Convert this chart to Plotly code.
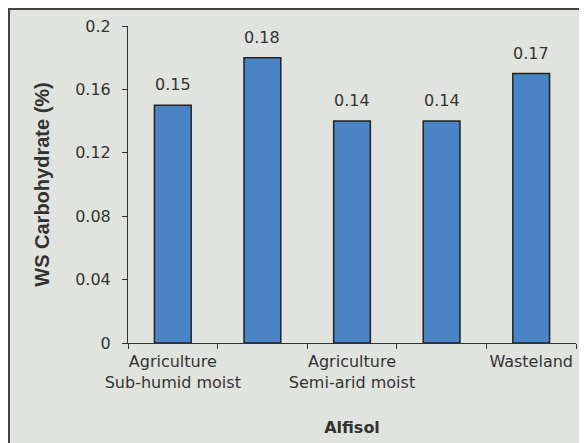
import plotly.graph_objects as go

# Data
categories = ["cat1", "cat2", "cat3", "cat4", "cat5"]
tick_labels = ["Agriculture<br>Sub-humid moist", "", "Agriculture<br>Semi-arid moist", "", "Wasteland"]
values = [0.15, 0.18, 0.14, 0.14, 0.17]
value_labels = ["0.15", "0.18", "0.14", "0.14", "0.17"]
y_ticks = [0, 0.04, 0.08, 0.12, 0.16, 0.2]
y_tick_labels = ["0", "0.04", "0.08", "0.12", "0.16", "0.2"]

TXT = "#333333"
FONT = "DejaVu Sans"
BG = "#e1e4de"

W, H = 579, 435          # page body has an 8px margin
L, R, T, B = 120, 11, 18, 100
PW, PH = W - L - R, H - T - B

fig = go.Figure()
fig.add_trace(go.Bar(
    x=categories, y=values, width=0.41,
    marker=dict(color="#4a84c4", line=dict(color="#222222", width=1.5)),
    hoverinfo="skip",
))

for c, v, t in zip(categories, values, value_labels):
    fig.add_annotation(x=c, y=v, text=t, showarrow=False, yanchor="bottom",
                       yshift=9, font=dict(family=FONT, size=16, color=TXT))

# outer frame border (left and top edges visible)
fig.add_shape(type="rect", xref="paper", yref="paper",
              x0=(1 - L) / PW, x1=2.0, y0=-2.0, y1=(PH + T - 1) / PH,
              fillcolor=BG, line=dict(color="#444444", width=2), layer="below")

fig.update_layout(
    width=W, height=H,
    margin=dict(l=L, r=R, t=T, b=B, autoexpand=False),
    paper_bgcolor=BG, plot_bgcolor="rgba(0,0,0,0)",
    showlegend=False,
    font=dict(family=FONT, size=16, color=TXT),
)
fig.update_xaxes(
    type="category", categoryorder="array", categoryarray=categories,
    range=[-0.5, 4.5], automargin=False,
    tickmode="array", tickvals=categories, ticktext=tick_labels, tickangle=0,
    tickson="boundaries", ticks="outside", ticklen=5, tickcolor="#333333",
    showline=True, linecolor="#333333", linewidth=1, showgrid=False,
    tickfont=dict(family=FONT, size=16, color=TXT),
    ticklabelstandoff=4,
    title=dict(text="<b>Alfisol</b>", font=dict(family=FONT, size=16, color=TXT), standoff=30),
)
fig.update_yaxes(
    range=[0, 0.2], tickmode="array", tickvals=y_ticks, ticktext=y_tick_labels,
    automargin=False,
    ticks="outside", ticklen=5, tickcolor="#333333",
    showline=True, linecolor="#333333", linewidth=1, showgrid=False, zeroline=False,
    tickfont=dict(family=FONT, size=16, color=TXT),
    ticklabelstandoff=8,
    title=dict(text="<b>WS Carbohydrate (%)</b>",
               font=dict(family="Liberation Sans", size=20, color=TXT), standoff=20),
)

fig.write_html("out.html")
